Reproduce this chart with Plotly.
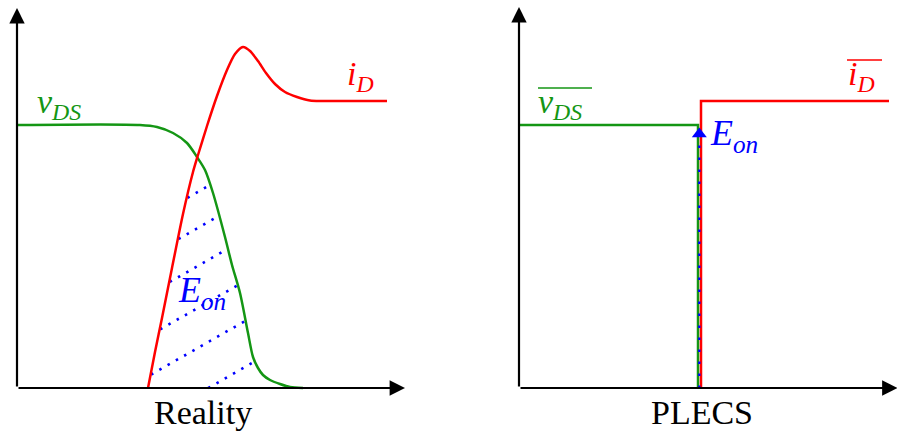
import numpy as np
import plotly.graph_objects as go

# ---------------- data: "Reality" panel (arbitrary time / amplitude units) ----------------
vds_t = [0, 12.3, 14.0, 15.6, 17.0, 18.0, 18.8, 19.6, 20.8, 21.5, 22.3, 23.1, 23.6, 24.1, 24.6, 25.3, 26.3, 27.3, 28.6]
vds_v = [26.3, 26.3, 26.1, 25.5, 24.5, 23.1, 21.8, 19.5, 15.1, 12.3, 9.5, 5.5, 3.1, 2.0, 1.3, 0.8, 0.4, 0.1, 0.0]

id_t = [13.1, 13.8, 14.5, 15.5, 16.6, 17.6, 18.1, 19.0, 20.0, 21.0, 21.8, 22.6, 23.3, 24.1, 24.9, 25.8, 26.8, 28.0, 29.3, 30.5, 37.0]
id_v = [0.0, 3.6, 7.0, 12.0, 17.4, 21.6, 23.3, 26.2, 29.2, 31.8, 33.4, 34.1, 33.7, 32.7, 31.5, 30.4, 29.6, 29.1, 28.75, 28.7, 28.7]

# E_on hatch lines: height at reference time, common slope
hatch_ref_t = 19.3
hatch_slope = 0.57
hatch_offsets = [0.1, 4.7, 8.7, 12.9, 16.7, 20.3]

# ---------------- data: "PLECS" panel ----------------
plecs_vds_t = [0, 17.9, 17.9]
plecs_vds_v = [26.3, 26.3, 0.0]
plecs_id_t = [18.2, 18.2, 37.0]
plecs_id_v = [0.0, 28.7, 28.7]
plecs_eon_t = [18.03, 18.03]
plecs_eon_v = [0.0, 25.4]

panel_titles = ["Reality", "PLECS"]

GREEN = "rgb(20,150,20)"
RED = "rgb(255,0,0)"
BLUE = "rgb(0,0,255)"
SERIF = "Liberation Serif"
LW = 2.5

# hatch segments clipped to region under both curves
xs = np.linspace(min(id_t), max(vds_t), 6000)
upper = np.minimum(np.interp(xs, id_t, id_v), np.interp(xs, vds_t, vds_v))
hx, hy = [], []
for h in hatch_offsets:
    y = h + hatch_slope * (xs - hatch_ref_t)
    idx = np.where((y >= 0) & (y <= upper - 0.25))[0]
    if len(idx) < 2:
        continue
    i0, i1 = idx[0], idx[-1]
    hx += [float(xs[i0]), float(xs[i1]), None]
    hy += [float(y[i0]), float(y[i1]), None]

fig = go.Figure()

# Reality panel
fig.add_trace(go.Scatter(x=hx, y=hy, mode="lines", xaxis="x", yaxis="y",
                         line=dict(color=BLUE, width=2.6, dash="2.5px,7px"), hoverinfo="skip"))
fig.add_trace(go.Scatter(x=vds_t, y=vds_v, mode="lines", xaxis="x", yaxis="y",
                         line=dict(color=GREEN, width=LW, shape="spline", smoothing=0.8)))
fig.add_trace(go.Scatter(x=id_t, y=id_v, mode="lines", xaxis="x", yaxis="y",
                         line=dict(color=RED, width=LW, shape="spline", smoothing=0.7)))

# PLECS panel
fig.add_trace(go.Scatter(x=plecs_vds_t, y=plecs_vds_v, mode="lines", xaxis="x2", yaxis="y2",
                         line=dict(color=GREEN, width=LW)))
fig.add_trace(go.Scatter(x=plecs_id_t, y=plecs_id_v, mode="lines", xaxis="x2", yaxis="y2",
                         line=dict(color=RED, width=LW)))
fig.add_trace(go.Scatter(x=plecs_eon_t, y=plecs_eon_v, mode="lines", xaxis="x2", yaxis="y2",
                         line=dict(color=BLUE, width=2.4, dash="2.5px,9.5px")))
fig.add_trace(go.Scatter(x=[plecs_eon_t[-1]], y=[plecs_eon_v[-1]], mode="markers", xaxis="x2", yaxis="y2",
                         marker=dict(symbol="triangle-up", size=13, color=BLUE)))

ann = []
# axis arrows
for xr, yr, xtip, ytip in [("x", "y", 38.8, 38.0), ("x2", "y2", 37.85, 38.1)]:
    for tx, ty in [(xtip, 0), (0, ytip)]:
        ann.append(dict(x=tx, y=ty, ax=0, ay=0, xref=xr, yref=yr, axref=xr, ayref=yr,
                        showarrow=True, arrowhead=2, arrowsize=1.4, arrowwidth=2.2,
                        arrowcolor="black", text="", standoff=0, startstandoff=0))

def label(x, y, text, color, size, xr, yr, xanchor="left"):
    ann.append(dict(x=x, y=y, xref=xr, yref=yr, text=text, showarrow=False,
                    xanchor=xanchor, yanchor="middle",
                    font=dict(family=SERIF, size=size, color=color)))

label(1.8, 28.4, "<i>v<sub>DS</sub></i>", GREEN, 34, "x", "y")
label(32.8, 31.2, "<i>i<sub>D</sub></i>", RED, 34, "x", "y")
label(15.9, 9.6, "<i>E<sub>on</sub></i>", BLUE, 36, "x", "y")
label(1.7, 28.4, "<i>v<sub>DS</sub></i>", GREEN, 34, "x2", "y2")
label(32.7, 31.2, "<i>i<sub>D</sub></i>", RED, 34, "x2", "y2")
label(18.9, 25.3, "<i>E<sub>on</sub></i>", BLUE, 36, "x2", "y2")
label(18.6, -2.4, panel_titles[0], "black", 34, "x", "y", "center")
label(18.3, -2.4, panel_titles[1], "black", 34, "x2", "y2", "center")

# overlines of the averaged PLECS quantities
shapes = [
    dict(type="line", xref="x2", yref="y2", x0=1.9, x1=7.3, y0=30.0, y1=30.0,
         line=dict(color=GREEN, width=1.6)),
    dict(type="line", xref="x2", yref="y2", x0=32.8, x1=36.3, y0=32.8, y1=32.8,
         line=dict(color=RED, width=1.6)),
]

ax_common = dict(visible=False, showgrid=False, zeroline=False, fixedrange=True)
fig.update_layout(
    width=897, height=432,
    margin=dict(l=0, r=0, t=0, b=0),
    paper_bgcolor="white", plot_bgcolor="white",
    showlegend=False,
    font=dict(family=SERIF),
    xaxis=dict(domain=[0, 0.5], range=[-1.7, 43.15], anchor="y", **ax_common),
    yaxis=dict(domain=[0, 1], range=[-4.4, 38.8], anchor="x", **ax_common),
    xaxis2=dict(domain=[0.5, 1], range=[-7.05, 37.8], anchor="y2", **ax_common),
    yaxis2=dict(domain=[0, 1], range=[-4.4, 38.8], anchor="x2", **ax_common),
    annotations=ann,
    shapes=shapes,
)

fig.write_html("out.html")
